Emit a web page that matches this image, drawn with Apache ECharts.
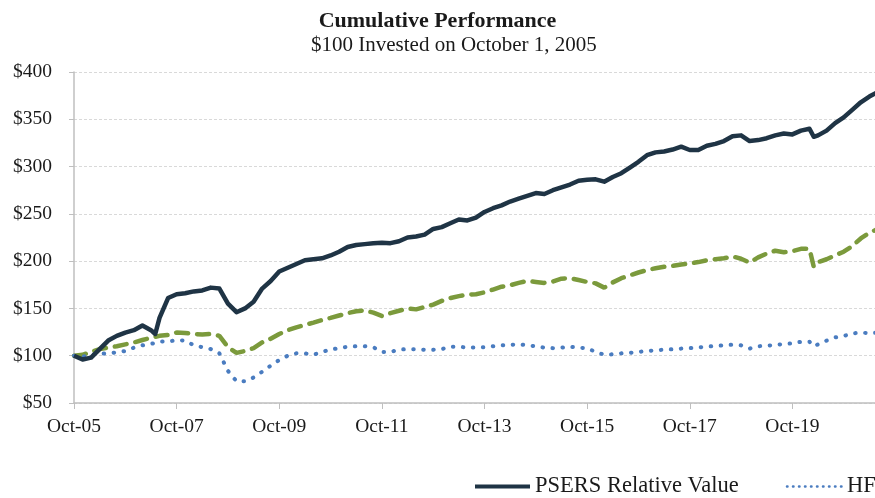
<!DOCTYPE html>
<html>
<head>
<meta charset="utf-8">
<script src="https://cdn.jsdelivr.net/npm/echarts@6/dist/echarts.min.js"></script>
<style>
  html, body { margin: 0; padding: 0; background: #fff; }
  #chart { width: 875px; height: 498px; }
</style>
</head>
<body>
<div id="chart"></div>
<script>
// months since Oct-05
const months = [
  0, 2, 4, 6, 8, 10, 12, 14, 16, 18, 19,
  20, 22, 24, 26, 28, 30, 32, 34, 36, 38,
  40, 42, 44, 46, 48, 50, 52, 54, 56, 58,
  60, 62, 64, 66, 68, 70, 72, 74, 76, 78,
  80, 82, 84, 86, 88, 90, 92, 94, 96, 98,
  100, 102, 104, 106, 108, 110, 112, 114, 116, 118,
  120, 122, 124, 126, 128, 130, 132, 134, 136, 138,
  140, 142, 144, 146, 148, 150, 152, 154, 156, 158,
  160, 162, 164, 166, 168, 170, 172, 173,
  174, 176, 178, 180, 182, 184, 186, 188
];

const psers = [
  100, 96, 98, 107, 116, 121, 124.5, 127, 132, 127, 123,
  140, 161, 165, 166, 168, 169, 172, 171, 155, 146,
  150, 157, 171, 179, 189, 193, 197, 201, 202, 203,
  206, 210, 215, 217, 218, 219, 219.5, 219, 221, 225,
  226, 228, 234, 236, 240, 244, 243, 246, 252, 256,
  259, 263, 266, 269, 272, 271, 275, 278, 281, 285,
  286, 286.5, 284, 289, 293, 299, 305, 312, 315, 316,
  318, 321, 317.5, 317.5, 322, 324, 327, 332, 333, 327,
  328, 330, 333, 335, 334, 338, 340, 331.5,
  333, 338, 346, 352, 360, 368, 374, 379
];

const hfri = [
  100, 99, 101, 102, 102.5, 103.5, 105, 108.5, 111, 112.5, 113.5,
  115, 115, 116.5, 116, 111, 109, 107, 102.5, 84, 73,
  73, 77, 83, 89.5, 95.5, 100, 102.5, 102.5, 101, 104,
  106.5, 108, 109.5, 110, 110, 109, 104, 104, 106.5, 107,
  106.8, 106.3, 106.3, 107, 109.5, 109.5, 108.6, 108.7, 109, 110,
  111, 111.5, 112, 111, 110, 108.5, 108, 108.5, 109.5, 108.5,
  108, 104, 101, 101.5, 102.5, 103, 104, 105, 105.7, 106.4,
  106.8, 107.5, 108, 108.7, 109.6, 110.3, 111, 111.6, 111, 107.5,
  110, 110.6, 111.3, 112.4, 113, 114.8, 114.8, 110,
  112, 116, 119.4, 120.8, 123.5, 124.5, 123.8, 124.5
];

const benchmark = [
  100, 101, 104, 107, 108.5, 110, 112, 114, 116.6, 119, 120,
  121, 122, 124.5, 124, 123, 122.5, 123, 121, 109, 103,
  105, 108, 114, 118, 123, 127, 130, 132.5, 135, 137.7,
  140, 142.5, 145, 147, 148, 145.5, 142, 145, 147.5, 150,
  149, 151.5, 154, 158, 161, 163, 164.5, 165, 167, 170,
  173, 174.5, 177, 179, 178, 177, 178.5, 181.5, 182, 180,
  178, 176.5, 172, 177.5, 182, 185, 188, 190.5, 192.5, 194,
  195, 196.5, 197.5, 199, 201, 202, 203, 205, 202.5, 198.5,
  204, 208, 211, 209.5, 210.5, 213, 213, 194,
  199, 202, 206, 210, 216, 224, 230, 234
];

const tickLabels = ['Oct-05', 'Oct-07', 'Oct-09', 'Oct-11', 'Oct-13', 'Oct-15', 'Oct-17', 'Oct-19'];

const pair = vals => months.map((m, i) => [m, vals[i]]);
const font = '"Liberation Serif", serif';

const myChart = echarts.init(document.getElementById('chart'));
myChart.setOption({
  animation: false,
  title: [
    {
      text: 'Cumulative Performance',
      left: 'center',
      top: 5,
      textStyle: { fontFamily: font, fontSize: 22, fontWeight: 'bold', color: '#1a1a1a' },
    },
    {
      text: '$100 Invested on October 1, 2005',
      left: 306,
      top: 30,
      textStyle: { fontFamily: font, fontSize: 21, fontWeight: 'normal', color: '#1a1a1a' },
    },
  ],
  // plot runs past the right edge, as in the cropped original
  grid: { left: 74, right: -20, top: 72, bottom: 95, outerBoundsMode: 'none' },
  legend: {
    data: [
      { name: 'PSERS Relative Value', lineStyle: { width: 4 } },
      { name: 'HFRI Relative Value', lineStyle: { width: 2.5, type: [0.5, 5.5] } },
      { name: 'Custom Benchmark', lineStyle: { width: 4 } },
    ],
    left: 468,
    top: 470,
    width: 2000,
    itemWidth: 55,
    itemHeight: 14,
    itemGap: 47,
    itemStyle: { opacity: 0 },
    textStyle: { fontFamily: font, fontSize: 22.5, color: '#1a1a1a' },
  },
  xAxis: {
    type: 'value',
    min: 0,
    max: 192,
    interval: 24,
    axisLine: { lineStyle: { color: '#bfbfbf', width: 1.5 } },
    axisTick: { show: true, length: 6, lineStyle: { color: '#bfbfbf' } },
    splitLine: { show: false },
    axisLabel: {
      margin: 14,
      fontFamily: font,
      fontSize: 19.5,
      color: '#1a1a1a',
      formatter: v => tickLabels[v / 24] || '',
    },
  },
  yAxis: {
    type: 'value',
    min: 50,
    max: 400,
    interval: 50,
    axisLine: { show: true, lineStyle: { color: '#bfbfbf', width: 1.5 } },
    axisTick: { show: true, length: 5, lineStyle: { color: '#bfbfbf' } },
    splitLine: { lineStyle: { color: '#d9d9d9', type: [3, 2] } },
    axisLabel: {
      margin: 22,
      fontFamily: font,
      fontSize: 19.5,
      color: '#1a1a1a',
      formatter: '${value}',
    },
  },
  series: [
    {
      name: 'Custom Benchmark',
      type: 'line',
      symbol: 'none',
      data: pair(benchmark),
      z: 2,
      itemStyle: { color: '#7b9a3c' },
      lineStyle: { color: '#7b9a3c', width: 4.5, type: [12, 9], cap: 'round' },
    },
    {
      name: 'HFRI Relative Value',
      type: 'line',
      symbol: 'none',
      data: pair(hfri),
      z: 3,
      itemStyle: { color: '#4a7cc0' },
      lineStyle: { color: '#4a7cc0', width: 4, type: [0.5, 9.5], cap: 'round' },
    },
    {
      name: 'PSERS Relative Value',
      type: 'line',
      symbol: 'none',
      data: pair(psers),
      z: 4,
      itemStyle: { color: '#1f3445' },
      lineStyle: { color: '#1f3445', width: 4.5, join: 'round' },
    },
  ],
});
</script>
</body>
</html>
